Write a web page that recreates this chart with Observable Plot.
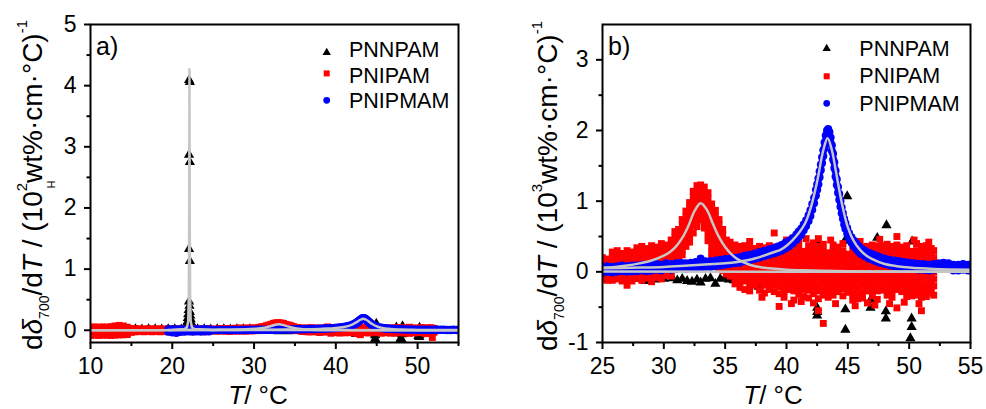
<!DOCTYPE html>
<html><head><meta charset="utf-8">
<script src="https://cdn.jsdelivr.net/npm/d3@7"></script>
<script src="https://cdn.jsdelivr.net/npm/@observablehq/plot@0.6"></script>
<style>
body{margin:0;background:#fff;}
#wrap{position:relative;width:986px;height:409px;overflow:hidden;background:#fff;}
#wrap svg{position:absolute;top:0;}
</style></head><body><div id="wrap"></div>
<script>
// ---------------- DATA (panel b units: 10^3; panel a = same data in 10^2 units) ----------------
const seriesNames = ["PNNPAM", "PNIPAM", "PNIPMAM"];
const panelLabels = ["a)", "b)"];
const xTicksA = [10, 20, 30, 40, 50], xMinorA = [15, 25, 35, 45, 55];
const yTicksA = [0, 1, 2, 3, 4, 5], yMinorA = [0.5, 1.5, 2.5, 3.5, 4.5];
const xTicksB = [25, 30, 35, 40, 45, 50, 55], xMinorB = [27.5, 32.5, 37.5, 42.5, 47.5, 52.5];
const yTicksB = [-1, 0, 1, 2, 3], yMinorB = [-0.5, 0.5, 1.5, 2.5];
const unitRatioAB = 0.1; // value in panel a units = value in panel b units * 0.1

// PNNPAM (triangles), [T, value] in panel-b units
const pnnpam = [
 [26.8,-0.13],[27.6,-0.1],[28.5,-0.13],[29.3,-0.11],[30.0,-0.1],[30.7,-0.09],[31.1,-0.12],[31.5,-0.1],
 [31.9,-0.13],[32.3,-0.14],[32.7,-0.11],[33.0,-0.15],[33.4,-0.1],[33.8,-0.09],[34.2,-0.17],[34.6,-0.1],
 [35.0,-0.08],[35.3,-0.11],[35.7,-0.12],[36.1,-0.09],[37.75,-0.21],
 [42.6,0.38],[44.76,0.44],[44.95,1.07],[47.4,0.48],[48.15,0.66],[48.26,0.35],[50.24,0.43],
 [42.5,-0.51],[42.5,-0.57],[42.5,-0.62],[44.8,-0.53],[44.8,-0.82],[46.85,-0.40],[46.85,-0.51],
 [48.1,-0.56],[48.1,-0.66],[50.2,-0.66],[50.2,-0.78],[50.1,-0.94],
 [44.8,-1.4],[44.9,-1.65],[47.9,-1.4],[48.1,-1.6],[50.2,-1.1]
];
// PNNPAM points only in panel a (low T, panel-a units)
const pnnpamLowA = [
 [22.05,4.09],[22.15,4.06],[22.05,2.87],[22.15,2.75],[22.05,1.33],[22.15,1.13],[22.05,0.47],[22.1,0.4],
 [22.0,0.33],[22.15,0.3],[21.95,0.26],[22.2,0.24],[21.9,0.2],[22.25,0.18],[22.05,0.16],[21.85,0.14],
 [22.3,0.13],[21.8,0.1],[22.35,0.1],[22.1,0.1],
 [15.5,0.02],[16.3,0.015],[17.1,0.02],[17.9,0.02],[18.7,0.015],[19.5,0.02],[20.3,0.02],[21.1,0.015],
 [23.1,0.02],[23.9,0.02],[24.7,0.015],[25.5,0.02],[26.3,0.02],[27.1,0.015],[27.9,0.02],[28.7,0.02],
 [29.5,0.02],[30.3,0.015],[31.1,0.02]
];
// PNIPAM (squares): [T, [values]] in panel-b units
const pnipam = [
 [25.0,[0.2,0.12,0.04,-0.04,-0.11]],[25.4,[0.18,0.1,0.02,-0.06,-0.12]],
 [25.8,[0.28,0.2,0.12,0.04,-0.05,-0.12]],[26.2,[0.3,0.22,0.13,0.05,-0.04,-0.1]],
 [26.6,[0.26,0.17,0.09,0.0,-0.08,-0.13]],[27.0,[0.3,0.22,0.14,0.06,-0.03,-0.11,-0.19]],
 [27.4,[0.28,0.19,0.1,0.02,-0.07,-0.13]],[27.8,[0.34,0.25,0.16,0.08,0.0,-0.09]],
 [28.2,[0.36,0.27,0.18,0.1,0.01,-0.08,-0.12]],[28.6,[0.33,0.24,0.15,0.07,-0.02,-0.09]],
 [29.0,[0.37,0.28,0.2,0.11,0.02,-0.07,-0.14]],[29.4,[0.35,0.27,0.18,0.09,0.0,-0.08]],
 [29.8,[0.4,0.31,0.22,0.13,0.05,-0.04,-0.1]],[30.2,[0.38,0.3,0.21,0.12,0.03,-0.05]],
 [30.6,[0.45,0.36,0.27,0.18,0.09,0.0,-0.06]],[30.9,[0.57,0.48,0.4,0.31,0.22,0.13,0.04]],
 [31.2,[0.6,0.52,0.44,0.35,0.27,0.18,0.09]],[31.5,[0.74,0.66,0.57,0.49,0.4,0.32,0.24]],
 [31.8,[0.86,0.78,0.7,0.61,0.53,0.44,0.36]],[32.1,[0.98,0.9,0.82,0.74,0.66,0.58,0.5,0.42]],
 [32.4,[1.14,1.06,0.98,0.9,0.82,0.74,0.66,0.55]],[32.7,[1.22,1.14,1.05,0.97,0.88,0.8,0.72,0.64]],
 [33.0,[1.23,1.15,1.06,0.98,0.9,0.81,0.74]],[33.3,[1.2,1.12,1.03,0.95,0.86,0.78,0.7,0.62]],
 [33.6,[1.12,1.04,0.96,0.88,0.79,0.71,0.62,0.53,0.44]],[33.9,[0.96,0.88,0.8,0.72,0.63,0.55,0.46,0.37,0.28,0.2]],
 [34.2,[0.87,0.79,0.7,0.62,0.53,0.45,0.36,0.28,0.19,0.11]],[34.5,[0.74,0.66,0.57,0.49,0.4,0.32,0.23,0.15,0.06]],
 [34.8,[0.6,0.52,0.44,0.36,0.27,0.19,0.1,0.02]],[35.1,[0.45,0.37,0.29,0.21,0.13,0.05,-0.03]],
 [35.4,[0.42,0.34,0.26,0.18,0.1,0.02,-0.06]],[35.8,[0.38,0.3,0.22,0.14,0.06,-0.02,-0.1,-0.17]],
 [36.2,[0.36,0.27,0.18,0.1,0.02,-0.06,-0.14,-0.22]],[36.6,[0.37,0.29,0.2,0.12,0.03,-0.05,-0.13,-0.25]],
 [37.0,[0.43,0.34,0.25,0.16,0.08,-0.01,-0.1,-0.18,-0.27]],[37.4,[0.33,0.25,0.16,0.07,-0.02,-0.1,-0.19]],
 [37.8,[0.36,0.27,0.18,0.1,0.01,-0.08,-0.16,-0.26]],[38.2,[0.34,0.25,0.16,0.08,-0.01,-0.1,-0.19,-0.3]],
 [38.6,[0.37,0.28,0.19,0.1,0.02,-0.07,-0.16,-0.25]],[39.0,[0.55,0.35,0.26,0.17,0.08,-0.01,-0.1,-0.19,-0.28]],
 [39.4,[0.33,0.24,0.15,0.06,-0.03,-0.12,-0.21,-0.31,-0.49]],[39.8,[0.36,0.27,0.18,0.09,0.0,-0.09,-0.18,-0.27,-0.36]],
 [40.2,[0.38,0.29,0.2,0.11,0.02,-0.07,-0.16,-0.25]],[40.6,[0.36,0.27,0.18,0.09,0.0,-0.09,-0.18,-0.27,-0.4]],
 [41.0,[0.4,0.31,0.22,0.13,0.04,-0.05,-0.14,-0.23,-0.32]],[41.4,[0.29,0.2,0.11,0.02,-0.07,-0.16,-0.25,-0.35]],
 [41.8,[0.37,0.28,0.19,0.1,0.01,-0.08,-0.17,-0.26,-0.37]],[42.2,[0.41,0.32,0.23,0.14,0.05,-0.04,-0.13,-0.22,-0.31,-0.44]],
 [42.6,[0.47,0.36,0.27,0.18,0.09,0.0,-0.09,-0.18,-0.27,-0.38,-0.55]],[43.0,[0.39,0.3,0.21,0.12,0.03,-0.06,-0.15,-0.24,-0.33,-0.73]],
 [43.4,[0.27,0.18,0.09,0.0,-0.09,-0.18,-0.27,-0.36]],[43.8,[0.38,0.29,0.2,0.11,0.02,-0.07,-0.16,-0.25,-0.33]],
 [44.2,[0.35,0.26,0.17,0.08,-0.01,-0.1,-0.19,-0.28]],[44.6,[0.4,0.3,0.21,0.12,0.03,-0.06,-0.15,-0.24,-0.34]],
 [45.0,[0.25,0.16,0.07,-0.02,-0.11,-0.2,-0.29]],[45.4,[0.32,0.23,0.14,0.05,-0.04,-0.13,-0.22,-0.31,-0.4]],
 [45.8,[0.33,0.24,0.15,0.06,-0.03,-0.12,-0.21,-0.3,-0.38]],[46.2,[0.35,0.26,0.17,0.08,-0.01,-0.1,-0.19,-0.28,-0.37]],
 [46.6,[0.36,0.27,0.18,0.09,0.0,-0.09,-0.18,-0.27,-0.44]],[47.0,[0.38,0.29,0.2,0.11,0.02,-0.07,-0.16,-0.25,-0.34]],
 [47.4,[0.36,0.27,0.18,0.09,0.0,-0.09,-0.18,-0.27,-0.39]],[47.8,[0.37,0.28,0.19,0.1,0.01,-0.08,-0.17,-0.26]],
 [48.2,[0.39,0.3,0.21,0.12,0.03,-0.06,-0.15,-0.24,-0.33]],[48.6,[0.36,0.27,0.18,0.09,0.0,-0.09,-0.18,-0.27,-0.36]],
 [49.0,[0.5,0.38,0.29,0.2,0.11,0.02,-0.07,-0.16,-0.25,-0.51]],[49.4,[0.35,0.26,0.17,0.08,-0.01,-0.1,-0.19,-0.28]],
 [49.8,[0.37,0.28,0.19,0.1,0.01,-0.08,-0.17,-0.26,-0.35]],[50.2,[0.29,0.2,0.11,0.02,-0.07,-0.16,-0.25,-0.34]],
 [50.6,[0.4,0.3,0.21,0.12,0.03,-0.06,-0.15,-0.24,-0.33]],[51.0,[0.36,0.27,0.18,0.09,0.0,-0.09,-0.18,-0.27,-0.36,-0.55]],
 [51.4,[0.37,0.28,0.19,0.1,0.01,-0.08,-0.17,-0.26,-0.35]],[51.8,[0.33,0.24,0.15,0.06,-0.03,-0.12,-0.21,-0.3,-1.18]],
 [52.0,[0.3,0.2,0.1,0.0,-0.1,-0.2,-0.33]],
 [38.0,[-0.36]],[40.0,[0.45]],[40.4,[-0.45]],[41.2,[-0.42]],[41.6,[0.47]],[43.6,[0.45]],[44.0,[-0.45]],
 [45.6,[-0.48]],[46.0,[0.43]],[47.2,[-0.47]],[47.6,[0.46]],[48.4,[-0.45]],[49.6,[-0.43]],[50.4,[0.45]],
 [50.8,[-0.45]],[51.6,[0.42]]
];
// PNIPAM only in panel a (low T, panel-a units)
const pnipamLowA = [
 [10.0,[0.05,0.0,-0.05,-0.085]],[10.5,[0.055,0.005,-0.045,-0.08]],[11.0,[0.05,0.0,-0.05,-0.085]],
 [11.5,[0.055,0.005,-0.045,-0.08]],[12.0,[0.05,0.0,-0.05,-0.08]],[12.5,[0.06,0.01,-0.04,-0.085]],
 [13.0,[0.07,0.02,-0.03,-0.08]],[13.5,[0.08,0.03,-0.02,-0.075]],[14.0,[0.07,0.02,-0.03,-0.075]],
 [14.5,[0.05,0.0,-0.05,-0.07]],[15.0,[0.03,-0.01,-0.035]],[15.5,[0.025,-0.025]],[16.0,[0.025,-0.02]],
 [16.5,[0.02,-0.025]],[17.0,[0.025,-0.02]],[17.5,[0.025,-0.025]],[18.0,[0.02,-0.02]],[18.5,[0.025,-0.025]],
 [19.0,[0.02,-0.02]],[19.5,[0.025,-0.025]],[20.0,[0.02,-0.02]],[20.5,[0.025,-0.02]],[21.0,[0.02,-0.025]],
 [21.5,[0.025,-0.02]],[22.0,[0.02,-0.02]],[22.5,[0.025,-0.025]],[23.0,[0.02,-0.02]],[23.5,[0.025,-0.02]],
 [24.0,[0.02,-0.025]],[24.5,[0.025,-0.02]]
];
// PNIPMAM (circles): [T, [values]] in panel-b units
const pnipmam = [
 [25.0,[0.07,-0.01]],[25.4,[0.08,0.0]],[25.8,[0.07,-0.01]],[26.2,[0.08,0.0]],[26.6,[0.09,0.01]],[27.0,[0.08,0.0]],
 [27.4,[0.09,0.01]],[27.8,[0.09,0.01]],[28.2,[0.1,0.02]],[28.6,[0.09,0.01]],[29.0,[0.1,0.02]],[29.4,[0.11,0.03]],
 [29.8,[0.1,0.02]],[30.2,[0.12,0.04]],[30.6,[0.11,0.03]],[31.0,[0.12,0.04]],[31.4,[0.13,0.05]],[31.8,[0.12,0.04]],
 [32.2,[0.13,0.05]],[32.6,[0.14,0.06]],[33.0,[0.19,0.12,0.05]],[33.4,[0.15,0.07]],[33.8,[0.15,0.07]],[34.2,[0.16,0.08]],
 [34.6,[0.17,0.09]],[35.0,[0.18,0.1]],[35.4,[0.19,0.11]],[35.8,[0.2,0.12]],[36.2,[0.21,0.13]],[36.6,[0.23,0.15]],
 [37.0,[0.24,0.16]],[37.4,[0.26,0.18]],[37.8,[0.28,0.2]],[38.2,[0.3,0.22]],[38.6,[0.32,0.24]],[39.0,[0.34,0.26]],
 [39.3,[0.36,0.28]],[39.6,[0.38,0.3]],[39.9,[0.41,0.33]],[40.2,[0.44,0.36]],[40.5,[0.48,0.4]],[40.8,[0.53,0.45]],
 [41.0,[0.57,0.49]],[41.2,[0.61,0.53]],[41.4,[0.67,0.59]],[41.6,[0.73,0.65]],[41.8,[0.8,0.72]],[41.95,[0.87,0.79]],
 [42.1,[0.96,0.88]],[42.25,[1.05,0.97]],[42.4,[1.16,1.08]],[42.5,[1.24,1.16]],[42.6,[1.32,1.24]],[42.7,[1.42,1.34]],
 [42.8,[1.52,1.44]],[42.9,[1.62,1.54]],[43.0,[1.72,1.64]],[43.1,[1.83,1.75]],[43.2,[1.93,1.85]],[43.3,[2.0,1.92]],
 [43.4,[2.02,1.94]],[43.5,[1.98,1.9]],[43.6,[1.9,1.82]],[43.7,[1.79,1.71]],[43.8,[1.67,1.59]],[43.9,[1.55,1.47]],
 [44.0,[1.43,1.35]],[44.1,[1.31,1.23]],[44.2,[1.2,1.12]],[44.3,[1.1,1.02]],[44.4,[1.0,0.92]],[44.5,[0.91,0.83]],
 [44.6,[0.83,0.75]],[44.7,[0.75,0.67]],[44.8,[0.69,0.61]],[44.95,[0.62,0.54]],[45.1,[0.55,0.47]],[45.3,[0.49,0.41]],
 [45.5,[0.44,0.36]],[45.7,[0.4,0.32]],[45.9,[0.36,0.28]],[46.1,[0.33,0.25]],[46.4,[0.3,0.22]],[46.7,[0.27,0.19]],
 [47.0,[0.25,0.17]],[47.3,[0.23,0.15]],[47.6,[0.21,0.13]],[48.0,[0.19,0.11]],[48.4,[0.17,0.09]],[48.8,[0.16,0.08]],
 [49.2,[0.15,0.07]],[49.6,[0.14,0.06]],[50.0,[0.13,0.05]],[50.4,[0.12,0.04]],[50.8,[0.11,0.03]],[51.2,[0.11,0.03]],
 [51.6,[0.1,0.02]],[52.0,[0.11,0.03]],[52.4,[0.12,0.04]],[52.8,[0.13,0.05]],[53.2,[0.12,0.04]],[53.6,[0.1,0.02]],
 [54.0,[0.1,0.02]],[54.4,[0.11,0.03]],[54.8,[0.1,0.02]],[55.0,[0.1,0.02]]
];
// PNIPMAM only in panel a (low T, panel-a units)
const pnipmamLowA = [
 [19.5,[0.015,-0.025]],[20.0,[0.02,-0.035]],[20.5,[0.015,-0.045]],[21.0,[0.02,-0.03]],[21.5,[0.015,-0.025]],
 [22.0,[0.02,-0.02]],[22.5,[0.015,-0.025]],[23.0,[0.02,-0.02]],[23.5,[0.015,-0.025]],[24.0,[0.02,-0.02]],[24.5,[0.015,-0.02]]
];
// Fit curves (grey)
const fitPnnpamA = [[10,0.0],[20,0.005],[21.5,0.02],[21.8,0.05],[21.95,0.15],[22.02,0.6],[22.07,2.0],[22.1,4.27],
 [22.13,2.0],[22.18,0.6],[22.25,0.15],[22.4,0.05],[22.7,0.02],[25,0.005],[55,0.0]];
const fitPnnpamB = [[25,0.005],[55,0.0]];
const fitPnipamB = [[25,0.06],[26,0.07],[27,0.09],[28,0.12],[29,0.16],[30,0.23],[30.5,0.28],[31,0.36],[31.5,0.48],
 [32,0.65],[32.5,0.86],[33,0.97],[33.5,0.88],[34,0.68],[34.5,0.49],[35,0.35],[35.5,0.25],[36,0.18],[37,0.1],
 [38,0.06],[40,0.03],[42,0.02],[45,0.01],[50,0.005],[55,0.003]];
const fitPnipmamB = [[25,0.05],[28,0.06],[30,0.07],[32,0.09],[34,0.11],[35,0.12],[36,0.14],[37,0.17],[38,0.22],
 [39,0.28],[39.5,0.31],[40,0.37],[40.5,0.45],[41,0.55],[41.5,0.68],[42,0.92],[42.5,1.28],[43,1.72],[43.35,1.89],
 [43.7,1.72],[44,1.45],[44.5,0.98],[45,0.63],[45.5,0.43],[46,0.31],[46.5,0.23],[47,0.18],[48,0.11],[49,0.08],
 [50,0.06],[52,0.04],[55,0.03]];
const fitPnipamLowA = [[10,0.001],[18,0.002],[22,0.004]];
const fitPnipmamLowA = [[19.5,0.003],[22,0.004]];

// ---------------- DRAWING ----------------
const FONT = '"Liberation Sans", Arial, Helvetica, sans-serif';
const GRAY = "#c6c6c6";
const cols = (c, k = 1) => c.flatMap(([T, vs]) => vs.map(v => ({T, v: v * k})));
const pts = (p, k = 1) => p.map(([T, v]) => ({T, v: v * k}));
const wrap = document.getElementById("wrap");

function panel(o) {
  const marks = [
    Plot.dot(o.black, {x: "T", y: "v", symbol: "triangle", r: 3.8, fill: "#000", clip: true}),
    Plot.dot(o.red, {x: "T", y: "v", symbol: "square", r: 3.9, fill: "#ff0000", clip: true}),
    Plot.dot(o.blue, {x: "T", y: "v", symbol: "circle", r: 4, fill: "#0000ff", clip: true}),
    ...o.fits.map(f => Plot.line(f.data, {x: "T", y: "v", stroke: GRAY, strokeWidth: 2.5, curve: f.curve, clip: true})),
    Plot.axisX({ticks: o.xMajor, tickSize: 7, tickPadding: 8, fontSize: 23, strokeWidth: 2, tickFormat: d => String(d), label: null}),
    Plot.axisX({ticks: o.xMinor, tickSize: 4, strokeWidth: 2, tickFormat: () => "", label: null}),
    Plot.axisY({ticks: o.yMajor, tickSize: 6, tickPadding: 8, fontSize: 23, strokeWidth: 2, tickFormat: d => String(d), label: null}),
    Plot.axisY({ticks: o.yMinor, tickSize: 3.5, strokeWidth: 2, tickFormat: () => "", label: null}),
    Plot.frame({stroke: "#000", strokeWidth: 2})
  ];
  const svgNode = Plot.plot({
    width: o.width, height: 409, marginLeft: o.ml, marginRight: o.mr, marginTop: 24, marginBottom: 67,
    x: {domain: o.xDomain, label: null}, y: {domain: o.yDomain, label: null},
    style: {fontFamily: FONT, background: "transparent", color: "#000"},
    marks
  });
  svgNode.style.left = o.left + "px";
  wrap.appendChild(svgNode);
  const svg = d3.select(svgNode);
  const txt = () => svg.append("text").attr("font-family", FONT).attr("fill", "#000").attr("text-anchor", "start");

  // y label
  const t = txt().attr("transform", `translate(${o.yl[0]},${o.yl[1]}) rotate(-90)`).attr("text-anchor", "middle").attr("font-size", 28);
  t.append("tspan").text("d");
  t.append("tspan").attr("font-style", "italic").text("δ");
  t.append("tspan").attr("font-size", 14).attr("dy", 7).text("700");
  t.append("tspan").attr("dy", -7).text("/d");
  t.append("tspan").attr("font-style", "italic").text("T");
  t.append("tspan").text(" / (10");
  t.append("tspan").attr("font-size", 15).attr("dy", -15).text(o.power);
  t.append("tspan").attr("dy", 15).text("wt%·cm·°C)");
  t.append("tspan").attr("font-size", 15).attr("dy", -15).text("-1");
  if (o.hMark) txt().attr("transform", `translate(${o.hMark[0]},${o.hMark[1]}) rotate(-90)`).attr("text-anchor", "middle").attr("font-size", 11).text("H");

  // x label
  const xl = txt().attr("x", o.xl[0]).attr("y", o.xl[1]).attr("text-anchor", "middle").attr("font-size", 26);
  xl.append("tspan").attr("font-style", "italic").text("T");
  xl.append("tspan").text("/ °C");

  // panel letter
  txt().attr("x", o.letter[0]).attr("y", o.letter[1]).attr("font-size", 25).text(o.letterText);

  // legend
  const sym = [d3.symbolTriangle, d3.symbolSquare, d3.symbolCircle];
  const rr = [3.1, 3.4, 3.4];
  const fills = ["#000", "#ff0000", "#0000ff"];
  seriesNames.forEach((name, i) => {
    svg.append("path").attr("transform", `translate(${o.leg.sx},${o.leg.sy[i]})`)
      .attr("d", d3.symbol(sym[i], Math.PI * rr[i] * rr[i])()).attr("fill", fills[i]);
    txt().attr("x", o.leg.tx).attr("y", o.leg.ty[i]).attr("font-size", 21.5).text(name);
  });
}

const k = unitRatioAB;
panel({
  width: 490, left: 0, ml: 90, mr: 32, xDomain: [10, 55], yDomain: [-0.2, 5],
  xMajor: xTicksA, xMinor: xMinorA, yMajor: yTicksA, yMinor: yMinorA,
  black: pts(pnnpam, k).concat(pts(pnnpamLowA)),
  red: cols(pnipamLowA).concat(cols(pnipam, k)),
  blue: cols(pnipmamLowA).concat(cols(pnipmam, k)),
  fits: [
    {data: pts(fitPnnpamA), curve: "linear"},
    {data: pts(fitPnipamLowA).concat(pts(fitPnipamB, k)), curve: "catmull-rom"},
    {data: pts(fitPnipmamLowA).concat(pts(fitPnipmamB, k)), curve: "catmull-rom"}
  ],
  power: "2", yl: [41.5, 185], hMark: [55, 184.5], xl: [258, 403.5], letter: [96, 55], letterText: panelLabels[0],
  leg: {sx: 326.7, sy: [52.5, 73.4, 100.3], tx: 349, ty: [57.3, 83.3, 108.3]}
});
panel({
  width: 496, left: 490, ml: 112, mr: 16, xDomain: [25, 55], yDomain: [-1, 3.5],
  xMajor: xTicksB, xMinor: xMinorB, yMajor: yTicksB, yMinor: yMinorB,
  black: pts(pnnpam), red: cols(pnipam), blue: cols(pnipmam),
  fits: [
    {data: pts(fitPnnpamB), curve: "linear"},
    {data: pts(fitPnipamB), curve: "catmull-rom"},
    {data: pts(fitPnipmamB), curve: "catmull-rom"}
  ],
  power: "3", yl: [67, 186], hMark: null, xl: [283, 403.5], letter: [118, 55], letterText: panelLabels[1],
  leg: {sx: 336.7, sy: [48.5, 76.3, 103.3], tx: 369.3, ty: [56, 83.3, 111]}
});
</script></body></html>
